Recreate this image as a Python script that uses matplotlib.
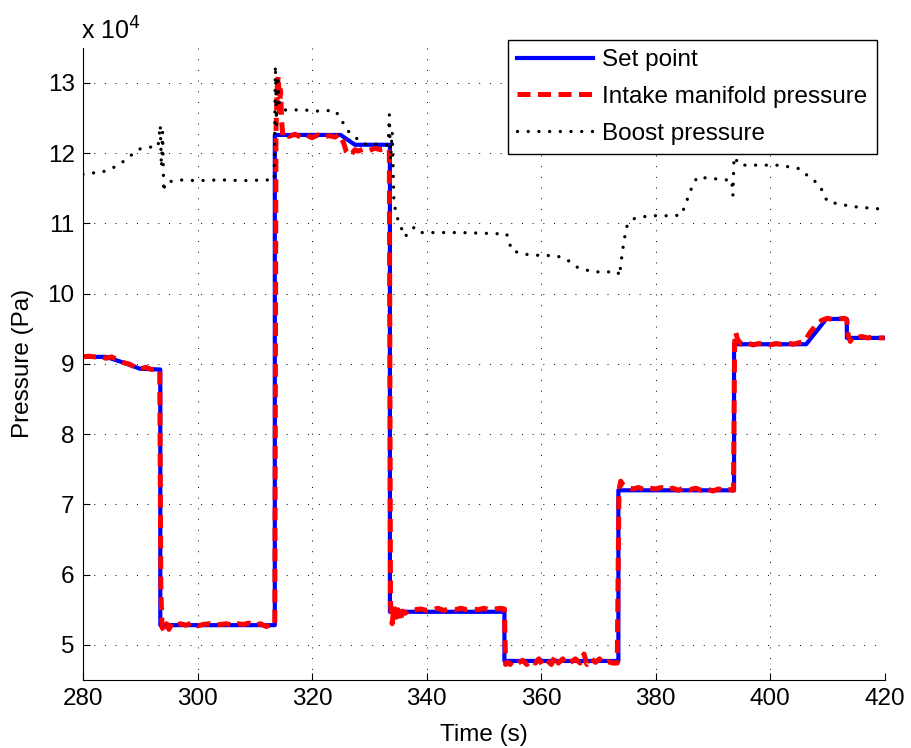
import matplotlib.pyplot as plt
import numpy as np

plt.rcParams['font.family'] = ['Liberation Sans', 'DejaVu Sans']

# set point (x 1e4 Pa), step changes given as repeated times
sp_time = [280, 284, 287, 290, 293.5, 293.5, 313.5, 313.5, 325, 327.5, 333.6, 333.6,
           353.6, 353.6, 373.5, 373.5, 393.7, 393.7, 406.3, 409.8, 413.4, 413.4, 420]
sp_val = [9.1, 9.1, 9.02, 8.93, 8.92, 5.28, 5.28, 12.26, 12.26, 12.12, 12.12, 5.47,
          5.47, 4.77, 4.77, 7.2, 7.2, 9.28, 9.28, 9.64, 9.64, 9.37, 9.37]

# measured intake manifold pressure (x 1e4 Pa)
imp_time = [280, 281, 282, 283, 284, 285, 286, 287, 288, 289, 290, 291, 292, 293, 293.4,
            293.6, 293.8, 294.2, 294.6, 295, 295.5, 296, 297, 298, 299, 300, 301, 302, 303,
            304, 305, 306, 307, 308, 309, 310, 311, 312, 313, 313.5,
            313.7, 313.9, 314.1, 314.3, 314.5, 314.7, 314.9, 315.5, 316, 317, 318, 319, 320,
            321, 322, 323, 324, 324.7, 325.5, 326, 326.5, 327, 327.5, 328, 329, 330, 331,
            332, 333, 333.5,
            333.7, 334, 334.3, 334.6, 335, 335.4, 335.8, 336.3, 337, 338, 339, 340, 341,
            342, 343, 344, 345, 346, 347, 348, 349, 350, 351, 352, 353, 353.6,
            353.8, 354.2, 354.6, 355, 356, 356.8, 357.5, 358.3, 359, 359.6, 360.2, 361,
            361.8, 362.5, 363, 363.8, 364.5, 365.3, 366, 366.8, 367.5, 368, 368.8, 369.5,
            370.2, 371, 371.8, 372.5, 373.3,
            373.6, 373.9, 374.3, 375, 376, 377, 378, 379, 380, 381, 382, 383, 384, 385,
            386, 387, 388, 389, 390, 391, 392, 393, 393.6,
            393.8, 394, 394.3, 395, 396, 397, 398, 399, 400, 401, 402, 403, 404, 405, 406,
            407, 408, 409, 410, 411, 412, 413, 413.4, 413.6, 414, 414.4, 415, 416, 417,
            418, 419, 420]
imp_val = [9.10, 9.11, 9.10, 9.11, 9.08, 9.10, 9.06, 9.02, 9.00, 8.96, 8.93, 8.95, 8.92, 8.93, 8.90,
           5.80, 5.25, 5.20, 5.30, 5.22, 5.30, 5.27, 5.30, 5.28, 5.31, 5.27, 5.29, 5.30, 5.28,
           5.29, 5.30, 5.28, 5.30, 5.29, 5.31, 5.28, 5.30, 5.26, 5.30, 5.29,
           12.30, 12.90, 13.10, 12.60, 12.90, 12.45, 12.25, 12.28, 12.24, 12.27, 12.23, 12.26, 12.22,
           12.26, 12.23, 12.25, 12.23, 12.27, 12.15, 12.02, 11.97, 12.00, 12.05, 12.03, 12.06, 12.04, 12.07,
           12.05, 12.06, 12.05,
           5.60, 5.30, 5.55, 5.35, 5.50, 5.33, 5.48, 5.45, 5.50, 5.50, 5.51, 5.49, 5.50,
           5.52, 5.49, 5.51, 5.50, 5.52, 5.50, 5.51, 5.50, 5.52, 5.50, 5.51, 5.52, 5.51,
           4.72, 4.75, 4.72, 4.77, 4.74, 4.78, 4.72, 4.78, 4.74, 4.80, 4.72, 4.78,
           4.72, 4.85, 4.74, 4.80, 4.72, 4.76, 4.80, 4.74, 4.87, 4.72, 4.80, 4.75,
           4.80, 4.73, 4.76, 4.74, 4.74,
           7.20, 7.33, 7.28, 7.24, 7.22, 7.24, 7.21, 7.23, 7.22, 7.24, 7.21, 7.23, 7.20, 7.24,
           7.21, 7.23, 7.20, 7.22, 7.19, 7.22, 7.20, 7.21, 7.20,
           9.30, 9.45, 9.35, 9.28, 9.30, 9.27, 9.29, 9.28, 9.27, 9.29, 9.28, 9.30, 9.28, 9.30, 9.32,
           9.45, 9.55, 9.62, 9.65, 9.63, 9.64, 9.65, 9.62, 9.42, 9.32, 9.38, 9.37, 9.39, 9.37,
           9.38, 9.37, 9.37]

# boost pressure (x 1e4 Pa)
bp_time = [280, 281.2, 283, 285.2, 287, 288.7, 289.9, 292, 293.1, 293.5, 293.7, 293.9, 294.1,
           294.3, 296.6, 300, 304, 308, 312.6, 313.4, 313.6, 313.8, 314.0, 314.3, 315, 315.8,
           318, 321, 324, 324.9, 326.1, 327.8, 328.9, 331, 333.3, 333.5, 333.7, 334.0, 334.3,
           334.8, 336.2, 337.9, 339.2, 341.8, 346, 350, 354.0, 354.9, 358.0, 362.7, 364.6,
           366.2, 369.0, 373.4, 373.7, 374.2, 374.9, 376.3, 378.9, 383.0, 384.5, 386.5, 387.3,
           392.4, 393.3, 393.5, 393.7, 394.7, 398, 401.1, 403.9, 405.1, 406.4, 408.6, 410.0,
           414.4, 418.7, 420]
bp_val = [11.70, 11.72, 11.72, 11.79, 11.88, 11.99, 12.06, 12.09, 12.09, 12.40, 11.80, 12.30, 11.45,
          11.58, 11.62, 11.61, 11.62, 11.61, 11.62, 11.62, 13.25, 12.40, 13.10, 12.70, 12.62, 12.61,
          12.62, 12.60, 12.61, 12.51, 12.33, 12.21, 12.13, 12.13, 12.12, 12.55, 11.90, 12.30, 11.30,
          11.10, 10.81, 10.95, 10.87, 10.87, 10.87, 10.86, 10.85, 10.61, 10.55, 10.54, 10.48,
          10.38, 10.31, 10.31, 10.25, 10.60, 10.95, 11.07, 11.11, 11.11, 11.12, 11.55, 11.66,
          11.62, 11.62, 11.40, 11.95, 11.83, 11.83, 11.83, 11.80, 11.78, 11.69, 11.55, 11.31,
          11.24, 11.21, 11.20]

fs = 17.5

fig = plt.figure(figsize=(9.12, 7.48), dpi=100)
ax = fig.add_axes([0.091, 0.091, 0.879, 0.845])

ax.plot(sp_time, sp_val, color='blue', lw=3.0, label='Set point')
ax.plot(imp_time, imp_val, color='red', lw=3.6, dashes=(2.6, 1.5), label='Intake manifold pressure')
ax.plot(bp_time, bp_val, color='black', lw=2.4, dashes=(0.01, 3.2), dash_capstyle='round',
        label='Boost pressure')

ax.set_xlim(280, 420)
ax.set_ylim(4.5, 13.5)
ax.set_xticks(np.arange(280, 421, 20))
ax.set_yticks(np.arange(5, 14, 1))
ax.tick_params(direction='in', labelsize=fs, length=5, width=0.8, top=False, right=False, pad=6)
ax.spines['top'].set_visible(False)
ax.spines['right'].set_visible(False)
ax.grid(True, color='black', lw=0.7, ls=(0, (1, 10)))

ax.set_xlabel('Time (s)', fontsize=fs, labelpad=10)
ax.set_ylabel('Pressure (Pa)', fontsize=fs, labelpad=10)
fig.text(0.089, 0.94, r'x 10$^{4}$', fontsize=18, ha='left', va='bottom')

leg = ax.legend(loc='upper right', bbox_to_anchor=(0.991, 1.013), borderaxespad=0,
                fontsize=fs, handlelength=3.1, handletextpad=0.4, fancybox=False,
                framealpha=1, edgecolor='black', labelspacing=0.6, borderpad=0.4)
leg.get_frame().set_linewidth(1.0)

fig.savefig('out.png', dpi=100)
